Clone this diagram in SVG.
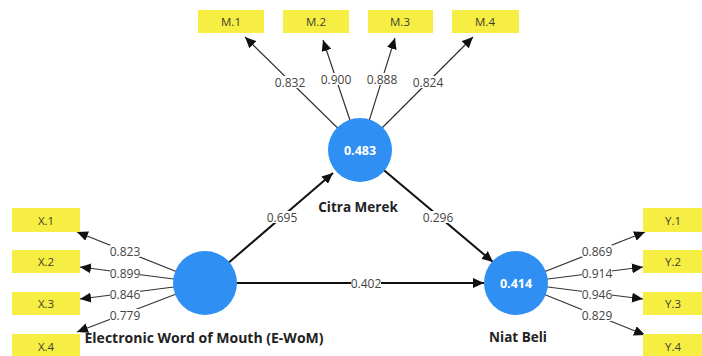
<svg xmlns="http://www.w3.org/2000/svg" width="702" height="356" viewBox="0 0 702 356">
<defs>
<marker id="ah" markerUnits="userSpaceOnUse" markerWidth="12" markerHeight="10" refX="11" refY="5" orient="auto">
<path d="M0,0 L11,5 L0,10 Z" fill="#111"/>
</marker>
<rect id="bg" x="-15" y="-6" width="30" height="12" fill="#fff"/>
<style>
.ind{fill:#f6ee42;}
.it{font-family:"Open Sans","DejaVu Sans",sans-serif;font-size:11.5px;fill:#3e3e2e;text-anchor:middle;dominant-baseline:central;}
.lv{fill:#2f8ff2;}
.lvv{font-family:"Open Sans","DejaVu Sans",sans-serif;font-size:12.5px;font-weight:bold;fill:#ffffff;text-anchor:middle;dominant-baseline:central;}
.lvn{font-family:"Open Sans","DejaVu Sans",sans-serif;font-size:13.5px;font-weight:bold;fill:#222;text-anchor:middle;dominant-baseline:central;}
.ld{stroke:#333;stroke-width:1.2;fill:none;marker-end:url(#ah);}
.st{stroke:#111;stroke-width:2;fill:none;marker-end:url(#ah);}
.lb{font-family:"Open Sans","DejaVu Sans",sans-serif;font-size:12px;fill:#444;text-anchor:middle;dominant-baseline:central;}
</style>
</defs>
<rect width="702" height="356" fill="#fff"/>
<g id="connectors">
<line class="ld" x1="360" y1="150" x2="245" y2="37"/>
<line class="ld" x1="360" y1="150" x2="323" y2="40"/>
<line class="ld" x1="360" y1="150" x2="395" y2="38"/>
<line class="ld" x1="360" y1="150" x2="473" y2="37"/>
<line class="ld" x1="205" y1="283" x2="77" y2="232"/>
<line class="ld" x1="205" y1="283" x2="80" y2="267"/>
<line class="ld" x1="205" y1="283" x2="80" y2="299"/>
<line class="ld" x1="205" y1="283" x2="77" y2="332"/>
<line class="ld" x1="516" y1="283" x2="645" y2="232"/>
<line class="ld" x1="516" y1="283" x2="643" y2="267"/>
<line class="ld" x1="516" y1="283" x2="643" y2="299"/>
<line class="ld" x1="516" y1="283" x2="645" y2="335"/>
<line class="st" x1="205" y1="283" x2="333" y2="173"/>
<line class="st" x1="360" y1="150" x2="493" y2="262"/>
<line class="st" x1="205" y1="283" x2="484" y2="283"/>
<use href="#bg" x="290" y="82"/>
<use href="#bg" x="336" y="79"/>
<use href="#bg" x="382" y="79"/>
<use href="#bg" x="428" y="82"/>
<use href="#bg" x="125" y="251"/>
<use href="#bg" x="125" y="273"/>
<use href="#bg" x="125" y="294"/>
<use href="#bg" x="125" y="315"/>
<use href="#bg" x="597" y="251"/>
<use href="#bg" x="597" y="273"/>
<use href="#bg" x="597" y="294"/>
<use href="#bg" x="597" y="315"/>
<use href="#bg" x="282" y="217"/>
<use href="#bg" x="438" y="217"/>
<use href="#bg" x="366" y="283"/>
<text class="lb" x="290" y="82">0.832</text>
<text class="lb" x="336" y="79">0.900</text>
<text class="lb" x="382" y="79">0.888</text>
<text class="lb" x="428" y="82">0.824</text>
<text class="lb" x="125" y="251">0.823</text>
<text class="lb" x="125" y="273">0.899</text>
<text class="lb" x="125" y="294">0.846</text>
<text class="lb" x="125" y="315">0.779</text>
<text class="lb" x="597" y="251">0.869</text>
<text class="lb" x="597" y="273">0.914</text>
<text class="lb" x="597" y="294">0.946</text>
<text class="lb" x="597" y="315">0.829</text>
<text class="lb" x="282" y="217">0.695</text>
<text class="lb" x="438" y="217">0.296</text>
<text class="lb" x="366" y="283">0.402</text>
</g>
<g id="M1"><rect class="ind" x="198" y="10" width="66" height="23"/><text class="it" x="231" y="21.5">M.1</text></g>
<g id="M2"><rect class="ind" x="283" y="10" width="66" height="23"/><text class="it" x="316" y="21.5">M.2</text></g>
<g id="M3"><rect class="ind" x="368" y="10" width="65" height="23"/><text class="it" x="400" y="21.5">M.3</text></g>
<g id="M4"><rect class="ind" x="452" y="10" width="67" height="23"/><text class="it" x="485" y="21.5">M.4</text></g>
<g id="X1"><rect class="ind" x="12" y="208" width="68" height="24"/><text class="it" x="46" y="220">X.1</text></g>
<g id="X2"><rect class="ind" x="12" y="250" width="68" height="23"/><text class="it" x="46" y="261.5">X.2</text></g>
<g id="X3"><rect class="ind" x="12" y="292" width="68" height="23"/><text class="it" x="46" y="303.5">X.3</text></g>
<g id="X4"><rect class="ind" x="12" y="334" width="68" height="23"/><text class="it" x="46" y="346">X.4</text></g>
<g id="Y1"><rect class="ind" x="643" y="208" width="60" height="24"/><text class="it" x="673" y="220">Y.1</text></g>
<g id="Y2"><rect class="ind" x="643" y="250" width="60" height="23"/><text class="it" x="673" y="261.5">Y.2</text></g>
<g id="Y3"><rect class="ind" x="643" y="292" width="60" height="23"/><text class="it" x="673" y="303.5">Y.3</text></g>
<g id="Y4"><rect class="ind" x="643" y="334" width="60" height="23"/><text class="it" x="673" y="346">Y.4</text></g>
<g id="CitraMerek"><circle class="lv" cx="360" cy="150" r="32"/><text class="lvv" x="360" y="150">0.483</text><text class="lvn" x="358" y="207">Citra Merek</text></g>
<g id="EWoM"><circle class="lv" cx="205" cy="283" r="32"/><text class="lvn" x="204" y="337" style="font-size:14px">Electronic Word of Mouth (E-WoM)</text></g>
<g id="NiatBeli"><circle class="lv" cx="516" cy="283" r="32"/><text class="lvv" x="516" y="283">0.414</text><text class="lvn" x="518" y="337">Niat Beli</text></g>
</svg>
